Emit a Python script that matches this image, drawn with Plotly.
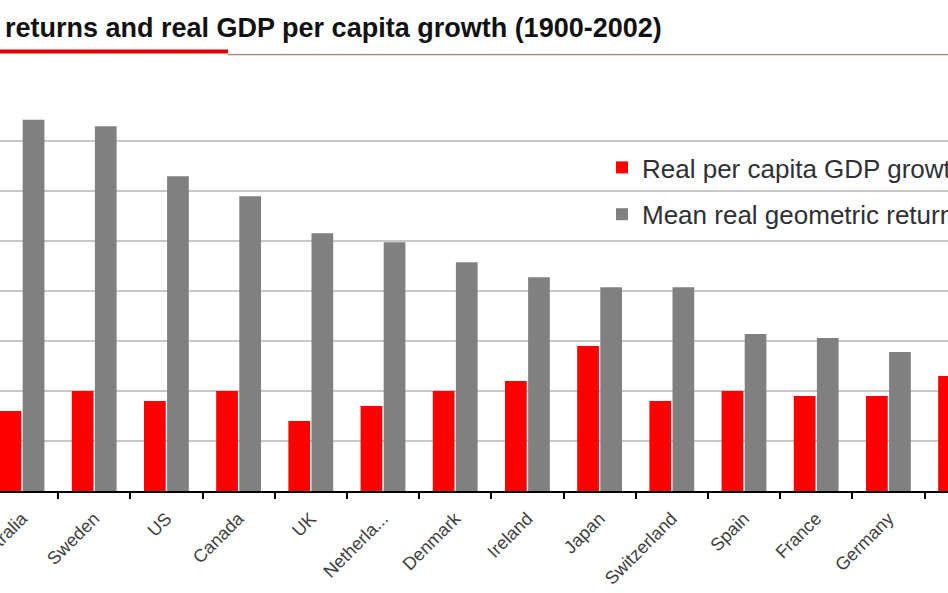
import plotly.graph_objects as go

countries = ["Australia", "Sweden", "US", "Canada", "UK", "Netherla...", "Denmark",
             "Ireland", "Japan", "Switzerland", "Spain", "France", "Germany", "Italy"]
gdp_growth = [1.6, 2.0, 1.8, 2.0, 1.4, 1.7, 2.0, 2.2, 2.9, 1.8, 2.0, 1.9, 1.9, 2.3]
real_returns = [7.43, 7.3, 6.3, 5.9, 5.16, 4.98, 4.58, 4.28, 4.08, 4.08, 3.14, 3.06, 2.78, 2.1]
title_text = "returns and real GDP per capita growth (1900-2002)"
name_gdp = "Real per capita GDP growth"
name_ret = "Mean real geometric return"

W, H = 948, 593
top, bottom = 91, 491          # plot area, pixels
cat_w = 72.2                   # category width, pixels
first_center = 22              # Australia centre, pixels

fig = go.Figure()
fig.add_trace(go.Bar(x=countries, y=gdp_growth, name=name_gdp, marker_color="#FF0000",
                     marker_line_width=0, legendgroup="a"))
fig.add_trace(go.Bar(x=countries, y=real_returns, name=name_ret, marker_color="#808080",
                     marker_line_width=0, legendgroup="b"))

def py(pix):
    return (bottom - pix) / (bottom - top)

def px(pix):
    return pix / W

fig.update_layout(
    template="none",
    width=W, height=H, autosize=False,
    margin=dict(l=0, r=0, t=top, b=H - bottom, pad=0, autoexpand=False),
    paper_bgcolor="white", plot_bgcolor="white",
    barmode="group", bargap=0.36, bargroupgap=0.06,
    font=dict(family="Liberation Sans, Arial, sans-serif", color="#404040"),
    showlegend=True,
    legend=dict(x=px(602), y=py(144), xanchor="left", yanchor="top",
                bgcolor="rgba(0,0,0,0)", borderwidth=0,
                font=dict(size=26, color="#2f3035"),
                traceorder="grouped", tracegroupgap=10),
    xaxis=dict(type="category",
               range=[-first_center / cat_w, (W - first_center) / cat_w],
               automargin=False,
               showline=True, linecolor="black", linewidth=2,
               ticks="outside", ticklen=6, tickwidth=2, tickcolor="black",
               tickson="boundaries", tickangle=-45, ticklabelstandoff=8,
               tickfont=dict(size=18, color="#404040"), showgrid=False,
               zeroline=False),
    yaxis=dict(range=[0, 8.005], tickvals=[1, 2, 3, 4, 5, 6, 7, 8], showgrid=True,
               gridcolor="#c8c8c8", gridwidth=2,
               showticklabels=False, zeroline=False, showline=False, ticks="",
               automargin=False),
    annotations=[dict(text="<b>" + title_text + "</b>", xref="paper", yref="paper",
                      x=px(3), y=py(28), xanchor="left", yanchor="middle",
                      showarrow=False, font=dict(size=27, color="#111111"))],
    shapes=[
        dict(type="line", xref="paper", yref="paper", x0=0, x1=px(228),
             y0=py(51.5), y1=py(51.5), line=dict(color="#E00000", width=4)),
        dict(type="line", xref="paper", yref="paper", x0=px(228), x1=1,
             y0=py(54.7), y1=py(54.7), line=dict(color="#b07878", width=1.2)),
    ],
)

fig.write_html(
    "out.html",
    config={"responsive": False, "displayModeBar": False},
    post_script="document.body.style.margin='0';document.body.style.overflow='hidden';",
)
